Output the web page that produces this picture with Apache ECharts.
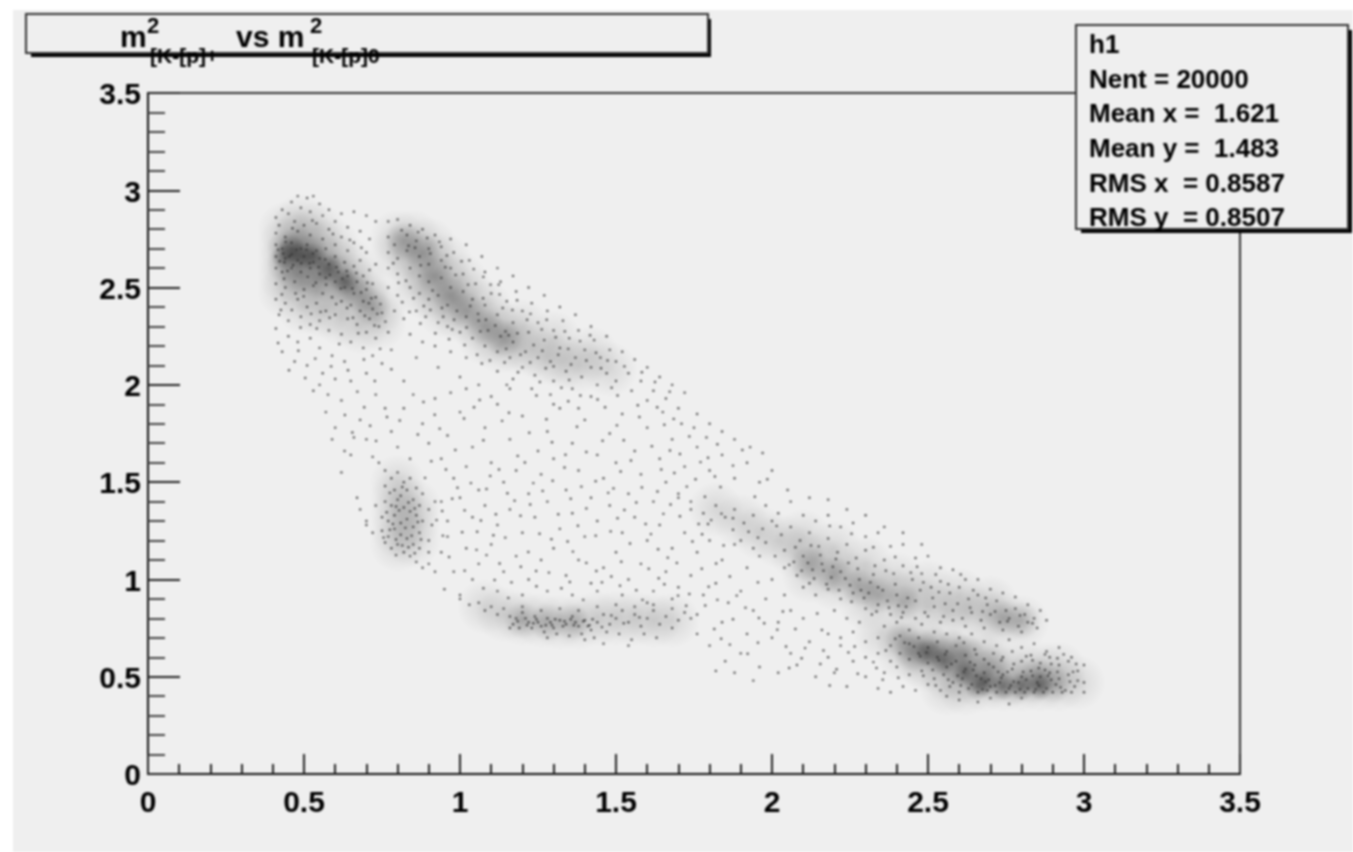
<!DOCTYPE html>
<html><head><meta charset="utf-8">
<style>html,body{margin:0;padding:0;background:#fff}#c{width:1353px;height:852px;filter:blur(0.8px)}</style>
<script src="https://cdn.jsdelivr.net/npm/echarts@6/dist/echarts.min.js"></script></head>
<body><div id="c"></div>
<script>
const xTicks = [0,0.5,1,1.5,2,2.5,3,3.5];
const statLines = ["h1","Nent = 20000","Mean x =  1.621","Mean y =  1.483","RMS x  = 0.8587","RMS y  = 0.8507"];
const densityLight = [[.44,2.8],[.49,2.84],[.54,2.8],[.44,2.72],[.49,2.76],[.54,2.72],[.59,2.72],[.44,2.64],[.49,2.68],[.54,2.64],[.59,2.64],[.64,2.62],[.44,2.56],[.49,2.6],[.54,2.56],[.59,2.56],[.64,2.54],[.69,2.52],[.49,2.52],[.54,2.48],[.59,2.48],[.64,2.46],[.69,2.44],[.74,2.4],[.74,2.32],[.44,2.48],[.5,2.4],[.56,2.38],[.62,2.34],[.68,2.3],
[.8,2.76],[.85,2.76],[.9,2.72],[.8,2.68],[.85,2.68],[.9,2.64],[.95,2.64],[.85,2.58],[.9,2.56],[.95,2.54],[1,2.54],[.88,2.48],[.93,2.46],[.98,2.44],[1.03,2.46],[1.08,2.4],[.95,2.38],[1,2.36],[1.05,2.32],[1.1,2.32],[1.15,2.28],[1.08,2.24],[1.13,2.2],[1.18,2.2],[1.23,2.18],[1.28,2.14],[1.33,2.12],[1.38,2.1],[1.2,2.3],[1.3,2.24],[1.42,2.16],[1.48,2.08],
[.8,1.5],[.8,1.42],[.8,1.34],[.8,1.26],[.8,1.18],[.85,1.38],[.85,1.3],[.85,1.2],
[1.08,.86],[1.14,.82],[1.2,.8],[1.26,.79],[1.32,.78],[1.38,.78],[1.44,.8],[1.5,.8],[1.56,.8],[1.62,.79],[1.68,.79],
[1.82,1.36],[1.9,1.3],[1.96,1.24],[2.02,1.2],[2.08,1.14],[2.14,1.1],[2.2,1.06],[2.26,1],[2.32,.96],[2.38,.92],[2.44,.9],[2.5,.86],[2.56,.84],[2.62,.84],[2.68,.82],[2.74,.8],[2.8,.78],[2.1,1.22],[2.2,1.16],[2.3,1.08],[2.4,1],[2.5,.96],[2.6,.92],[2.7,.88],[2.2,.98],[2.3,.88],[2.12,1.02],
[2.35,.72],[2.42,.7],[2.48,.66],[2.54,.62],[2.6,.6],[2.5,.56],[2.56,.52],[2.62,.5],[2.68,.46],[2.74,.46],[2.8,.46],[2.86,.46],[2.92,.46],[2.98,.47],[2.42,.62],[2.48,.58],[2.68,.56],[2.74,.54],[2.8,.54],[2.86,.54],[2.92,.54],[2.62,.58],[2.56,.44],[2.62,.44],[2.68,.62]];
const densityMid = [[.44,2.7],[.48,2.72],[.52,2.68],[.44,2.62],[.5,2.64],[.56,2.62],[.6,2.58],[.64,2.52],[.68,2.46],[.72,2.4],[.48,2.56],[.54,2.54],
[.82,2.74],[.88,2.68],[.92,2.56],[.97,2.46],[1.02,2.38],[1.08,2.3],[1.14,2.24],
[1.2,.79],[1.28,.78],[1.36,.78],
[2.12,1.08],[2.2,1.02],[2.28,.96],[2.34,.92],[2.42,.88],[2.74,.8],[2.8,.79],
[2.42,.69],[2.48,.65],[2.54,.6],[2.6,.55],[2.66,.5],[2.72,.46],[2.78,.45],[2.84,.46],[2.9,.46],[2.52,.66],[2.62,.62],[2.85,.5],[2.7,.55],[2.58,.65],[2.45,.62]];
const densityDark = [[.46,2.7],[.49,2.66],[.53,2.66],[.58,2.6],[.63,2.53],[.44,2.66],[2.55,.58],[2.62,.52],[2.68,.47],[2.74,.45],[2.8,.45],[2.66,.45],[2.5,.62],[2.86,.45]];
const dotsTopLeft = [[.41,2.86],[.43,2.9],[.46,2.94],[.48,2.97],[.51,2.96],[.53,2.97],[.55,2.93],[.58,2.9],[.62,2.88],[.66,2.89],[.7,2.87],[.73,2.84],[.45,2.88],[.49,2.91],[.52,2.89],[.56,2.87],[.6,2.84],[.64,2.81],[.68,2.79],[.71,2.75],[.42,2.82],[.47,2.84],[.5,2.82],[.54,2.83],[.58,2.8],[.62,2.76],[.66,2.73],[.7,2.68],[.73,2.62],[.41,2.78],[.44,2.76],[.48,2.79],[.52,2.77],[.56,2.75],[.6,2.72],[.64,2.69],[.68,2.64],[.71,2.59],[.41,2.72],[.43,2.7],[.46,2.73],[.49,2.7],[.51,2.72],[.54,2.69],[.57,2.7],[.6,2.66],[.63,2.63],[.66,2.61],[.69,2.56],[.72,2.52],[.41,2.66],[.44,2.65],[.46,2.67],[.48,2.64],[.5,2.66],[.53,2.63],[.55,2.65],[.58,2.62],[.61,2.58],[.64,2.56],[.67,2.53],[.7,2.49],[.73,2.45],[.41,2.6],[.43,2.58],[.46,2.6],[.49,2.58],[.52,2.6],[.55,2.57],[.57,2.55],[.6,2.53],[.63,2.5],[.66,2.47],[.69,2.43],[.72,2.39],[.75,2.37],[.41,2.52],[.44,2.5],[.47,2.53],[.5,2.49],[.53,2.51],[.56,2.47],[.59,2.45],[.62,2.43],[.65,2.41],[.68,2.38],[.71,2.34],[.74,2.3],[.77,2.27],[.41,2.44],[.44,2.42],[.48,2.44],[.51,2.4],[.54,2.42],[.57,2.38],[.6,2.36],[.64,2.34],[.67,2.31],[.7,2.27],[.73,2.24],[.42,2.36],[.45,2.33],[.49,2.35],[.52,2.31],[.55,2.33],[.58,2.28],[.62,2.26],[.65,2.22],[.69,2.19],[.72,2.15],[.41,2.29],[.45,2.25],[.48,2.22],[.52,2.24],[.55,2.19],[.59,2.15],[.63,2.12],[.47,2.12],[.51,2.1],[.56,2.06],[.6,2.03],[.65,2.02],[.7,2.06],[.75,2.11],[.43,2.17],[.78,2.18],[.53,1.97],[.57,1.86],[.62,1.92],[.68,1.82],[.73,1.95],[.59,1.72],[.65,1.64],[.6,1.78],[.55,2],
[.437,2.63],[.512,2.555],[.473,2.47],[.553,2.375],[.618,2.495],[.426,2.385],[.489,2.295],[.571,2.515],[.657,2.345],[.708,2.42],[.441,2.735],[.527,2.845],[.463,2.805],[.593,2.775],[.647,2.745],[.684,2.705],[.436,2.545],[.499,2.455],[.541,2.29],[.613,2.21],[.674,2.265],[.735,2.365],[.761,2.325],[.482,2.175],[.536,2.135],[.587,2.095],[.641,2.075],[.692,2.13],[.744,2.185],[.417,2.215],[.452,2.075],[.504,2.035],[.671,1.965],[.727,2.02],[.631,1.845],[.693,1.885],[.577,1.95],[.655,1.755],[.712,1.79],[.766,1.835],[.453,2.66],[.476,2.695],[.518,2.625],[.465,2.615],[.508,2.695],[.547,2.605],[.568,2.645],[.604,2.605],[.623,2.545],[.655,2.495],[.683,2.475],[.716,2.445],[.417,2.695],[.422,2.635],[.433,2.675],[.447,2.585],[.491,2.625],[.529,2.675],[.538,2.525],[.583,2.565],[.637,2.585],[.668,2.575],[.703,2.525],[.745,2.415],[.726,2.305],[.695,2.355],[.638,2.395],[.603,2.415],[.582,2.345],[.523,2.365],[.461,2.385],[.429,2.465]];
const dotsTopBand = [[.77,2.84],[.8,2.85],[.84,2.82],[.88,2.8],[.92,2.77],[.97,2.75],[1.02,2.72],[1.07,2.66],[1.12,2.6],[1.17,2.56],[1.22,2.5],[1.27,2.46],[1.32,2.4],[1.37,2.36],[1.42,2.3],[1.47,2.25],[.77,2.76],[.79,2.72],[.83,2.77],[.86,2.74],[.9,2.7],[.94,2.71],[.98,2.68],[1.03,2.64],[1.08,2.58],[1.13,2.53],[1.18,2.48],[1.23,2.42],[1.28,2.38],[1.33,2.33],[1.38,2.28],[1.43,2.23],[1.48,2.18],[.77,2.68],[.8,2.65],[.83,2.69],[.87,2.66],[.9,2.62],[.94,2.64],[.97,2.6],[1.01,2.57],[1.05,2.52],[1.1,2.47],[1.15,2.43],[1.2,2.38],[1.25,2.32],[1.3,2.28],[1.35,2.24],[1.4,2.18],[1.45,2.14],[1.5,2.12],[.77,2.6],[.8,2.57],[.84,2.6],[.87,2.56],[.9,2.53],[.94,2.55],[.97,2.5],[1.01,2.48],[1.04,2.44],[1.08,2.41],[1.12,2.36],[1.17,2.32],[1.22,2.27],[1.27,2.23],[1.32,2.19],[1.37,2.14],[1.42,2.09],[1.47,2.06],[.77,2.5],[.8,2.46],[.84,2.5],[.87,2.47],[.9,2.44],[.93,2.46],[.96,2.41],[.99,2.38],[1.02,2.35],[1.06,2.33],[1.09,2.28],[1.13,2.25],[1.17,2.22],[1.21,2.17],[1.25,2.14],[1.29,2.12],[1.34,2.07],[1.39,2.04],[1.44,2],[.79,2.38],[.82,2.34],[.86,2.38],[.89,2.35],[.93,2.32],[.96,2.3],[1,2.27],[1.04,2.24],[1.08,2.2],[1.12,2.17],[1.16,2.14],[1.2,2.09],[1.24,2.05],[1.3,2.02],[1.36,1.98],[.84,2.26],[.88,2.22],[.92,2.2],[.97,2.17],[1.02,2.14],[1.07,2.11],[1.12,2.07],[1.17,2.03],[1.23,1.98],[1.29,1.95],[.86,2.14],[.93,2.09],[1,2.04],[1.06,2],[1.52,2.17],[1.56,2.13],[1.6,2.09],[1.64,2.04],[1.68,2],[1.72,1.96],[1.54,2.06],[1.58,2.02],[1.62,1.97],[1.66,1.93],[1.7,1.88],[1.5,2.02],[1.55,1.97],[1.6,1.92],[1.65,1.86],[1.76,1.85],[1.8,1.8],[1.84,1.76],[1.88,1.72],[1.75,1.78],[1.79,1.73],[1.71,1.8],[1.93,1.68],[1.97,1.65],
[.813,2.795],[.856,2.705],[.905,2.675],[.874,2.615],[.827,2.535],[.953,2.605],[.986,2.565],[1.026,2.515],[1.074,2.445],[.912,2.485],[.942,2.395],[.981,2.335],[1.033,2.405],[1.065,2.275],[1.113,2.305],[1.156,2.255],[1.194,2.155],[1.236,2.205],[1.275,2.085],[1.315,2.155],[1.356,2.105],[1.405,2.125],[1.452,2.085],[1.486,1.985],[.786,2.625],[.803,2.525],[.851,2.445],[.884,2.405],[.921,2.265],[.965,2.235],[1.015,2.205],[1.055,2.155],[1.096,2.125],[1.143,2.115],[1.186,2.065],[1.256,2.015],[1.325,1.985],[1.386,1.945],[1.441,1.925],[1.505,1.945],[1.57,1.895],[1.632,1.885],[1.685,1.825],[1.127,2.465],[1.168,2.385],[1.215,2.335],[1.262,2.285],[1.307,2.245],[1.347,2.185],[1.385,2.225],[1.436,2.165],[1.473,2.125],[1.527,2.095],[1.583,2.065],[1.625,2.015],[1.672,1.965],[1.075,2.555],[1.124,2.515],[1.183,2.435],[1.226,2.365],[1.278,2.335],[1.336,2.275],[1.417,2.255],[.835,2.715],[.866,2.785],[.895,2.755],[.934,2.735],[.958,2.665],[1.005,2.635],[1.044,2.595],[1.098,2.515],[1.137,2.395],[.815,2.425],[.838,2.375],[.873,2.315],[.905,2.385],[.946,2.35],[.975,2.285],[1.021,2.295],[1.058,2.365],[1.083,2.335],[1.146,2.275],[1.184,2.265],[1.148,2.185],[1.225,2.115],[1.264,2.175],[1.3,2.095],[1.35,2.025]];
const dotsInterior = [[.62,1.55],[.7,1.72],[.74,1.6],[.78,1.76],[.82,1.88],[.88,1.8],[.92,1.93],[.96,1.74],[1,1.86],[1.04,1.68],[1.08,1.78],[1.12,1.9],[1.16,1.72],[1.2,1.84],[1.25,1.66],[1.28,1.76],[1.32,1.88],[1.36,1.7],[1.4,1.82],[1.44,1.64],[1.48,1.75],[1.52,1.85],[1.56,1.66],[1.6,1.78],[1.64,1.62],[1.68,1.72],[1.72,1.58],[1.76,1.68],[1.8,1.56],[1.84,1.64],[1.88,1.52],[1.92,1.6],[1.96,1.5],[2,1.56],[2.05,1.46],[.94,1.62],[.98,1.52],[1.02,1.58],[1.06,1.46],[1.1,1.6],[1.14,1.5],[1.18,1.56],[1.22,1.44],[1.26,1.54],[1.3,1.62],[1.34,1.46],[1.38,1.56],[1.42,1.42],[1.46,1.52],[1.5,1.6],[1.54,1.44],[1.58,1.54],[1.62,1.4],[1.66,1.5],[1.7,1.44],[1.74,1.36],[.92,1.4],[.96,1.3],[1,1.42],[1.04,1.32],[1.08,1.38],[1.12,1.28],[1.16,1.36],[1.2,1.24],[1.24,1.32],[1.28,1.4],[1.32,1.26],[1.36,1.34],[1.4,1.22],[1.44,1.3],[1.48,1.38],[1.52,1.24],[1.56,1.32],[1.6,1.2],[1.64,1.28],[1.68,1.16],[1.72,1.24],[1.76,1.14],[1.8,1.2],[1.84,1.1],[1.88,1.18],[1.92,1.06],[1.96,1.12],[2,1],[.9,1.08],[.94,1.14],[.98,1.04],[1.02,1.16],[1.06,1.08],[1.1,1.18],[1.14,1.04],[1.18,1.12],[1.22,1],[1.26,1.1],[1.3,1.16],[1.34,1.02],[1.38,1.1],[1.42,.98],[1.46,1.06],[1.5,1.14],[1.54,1],[1.58,1.08],[1.62,.94],[1.66,1.04],[1.7,.96],[1.74,1.02],[1.78,.92],[1.82,.98],[1.86,.88],[1.9,.94],[1.94,.84],[1.98,.9],[2.02,.78],[.67,1.42],[.7,1.28],[.73,1.38],[.95,.95],[1,.92],[1.04,1],[1.12,.94],[1.2,.92],[1.28,.94],[1.36,.92],[1.44,.94],[1.52,.92],[1.6,.88],[1.68,.9],[1.76,.82],[1.84,.78],[1.92,.72],[2,.7],[2.06,.62],[1.8,.66],[1.76,.72],[1.85,.58],[1.9,.62],[1.96,.55],[2.02,.52],[2.08,.56],[2.14,.5],[2.12,.68],[2.18,.6],[2.06,.84],[1.82,.53],[1.88,.52],[1.94,.48],[2.04,.92],[2.1,.8],[2.16,.74],[2.22,.66],[2.26,.58],[2.2,.52],[2.24,.45],[2.3,.5],[2.34,.44],[2.38,.42],[1.16,1.98],[1.3,1.9],[1.42,1.94],[.84,1.62],[.9,1.7],[1.02,1.98],[1.1,1.94],[.76,1.88],[.82,2.02],[.78,2.08],
[.935,1.775],[1.045,1.885],[1.135,1.815],[1.245,1.945],[1.375,1.785],[1.465,1.885],[1.575,1.835],[1.655,1.795],[1.735,1.735],[1.825,1.695],[1.905,1.665],[.865,1.745],[.985,1.665],[1.075,1.715],[1.185,1.635],[1.295,1.705],[1.405,1.655],[1.525,1.715],[1.615,1.685],[1.705,1.645],[1.795,1.625],[1.875,1.585],[1.985,1.515],[.955,1.565],[1.035,1.495],[1.125,1.565],[1.235,1.495],[1.335,1.575],[1.435,1.505],[1.515,1.555],[1.645,1.565],[1.755,1.515],[1.835,1.475],[1.945,1.425],[.975,1.415],[1.085,1.465],[1.175,1.405],[1.265,1.455],[1.355,1.415],[1.475,1.445],[1.565,1.395],[1.675,1.385],[1.785,1.425],[.925,1.305],[1.015,1.355],[1.115,1.335],[1.225,1.385],[1.315,1.335],[1.405,1.365],[1.505,1.315],[1.595,1.285],[1.705,1.325],[1.795,1.285],[1.875,1.255],[.945,1.225],[1.055,1.245],[1.145,1.215],[1.255,1.235],[1.345,1.195],[1.435,1.225],[1.545,1.185],[1.635,1.155],[1.745,1.195],[1.845,1.175],[.965,1.115],[1.085,1.125],[1.195,1.065],[1.285,1.035],[1.405,1.085],[1.485,1.015],[1.605,1.055],[1.695,1.085],[1.775,1.055],[1.865,1.015],[1.955,.985],[1.015,1.045],[1.165,.985],[1.245,.965],[1.325,.955],[1.455,.985],[1.565,.945],[1.655,.975],[1.735,.925],[1.825,.895],[1.915,.855],[2.035,.835],[1.075,.955],[1.155,.905],[1.395,.895],[1.585,.895],[1.725,.865],[1.875,.795],[1.975,.775],[2.075,.745],[2.145,.825],[1.815,.745],[1.955,.675],[2.045,.655],[1.865,.665],[2.165,.635],[2.095,.595],[2.055,.545],[2.155,.565],[2.245,.625],[2.275,.515],[2.185,.455],[2.325,.575],[2.355,.485],[1.15,2],[1.38,1.88],[.8,1.68],[.72,1.63],[.66,1.73],[.63,1.66],[.85,1.95],[.97,1.96],
[.883,1.912],[1.013,1.827],[1.157,1.857],[1.277,1.823],[1.347,1.916],[1.503,1.792],[.731,1.712],[.807,1.817],[.919,1.846],[1.063,1.922],[1.222,1.754],[1.338,1.641],[1.457,1.713],[1.548,1.611],[1.673,1.663],[1.771,1.603],[.908,1.608],[1.097,1.532],[1.208,1.601],[1.389,1.477],[1.583,1.473],[1.687,1.547],[1.817,1.529],[.888,1.522],[.992,1.471],[1.152,1.443],[1.297,1.507],[1.492,1.468],[1.633,1.452],[1.727,1.477],[.943,1.352],[1.067,1.303],[1.194,1.327],[1.378,1.276],[1.527,1.357],[1.652,1.337],[1.838,1.338],[1.007,1.243],[1.107,1.227],[1.293,1.207],[1.483,1.247],[1.612,1.233],[1.776,1.232],[1.053,1.152],[1.219,1.141],[1.362,1.143],[1.517,1.091],[1.666,1.112],[1.821,1.082],[1.127,1.082],[1.244,1.043],[1.437,1.043],[1.637,1.006],[1.797,.962],[1.887,.917],[1.111,.997],[1.352,.987],[1.513,.968],[1.699,.917],[1.786,.866],[1.958,.802],[2.017,.742],[1.837,.695],[1.922,.618],[2.106,.647],[2.207,.538]];
const dotsLeftBlob = [[.76,1.56],[.78,1.52],[.8,1.55],[.82,1.5],[.84,1.52],[.86,1.47],[.88,1.44],[.76,1.48],[.79,1.46],[.81,1.43],[.83,1.46],[.85,1.41],[.87,1.38],[.9,1.36],[.76,1.4],[.78,1.38],[.8,1.41],[.82,1.37],[.84,1.35],[.86,1.33],[.88,1.3],[.91,1.28],[.75,1.32],[.77,1.3],[.79,1.33],[.81,1.29],[.83,1.31],[.85,1.27],[.87,1.24],[.9,1.2],[.75,1.25],[.77,1.22],[.79,1.26],[.81,1.23],[.83,1.21],[.85,1.18],[.87,1.16],[.9,1.14],[.76,1.19],[.78,1.16],[.8,1.18],[.82,1.14],[.84,1.12],[.86,1.09],[.88,1.06],[.92,1.04],[.7,1.3],[.68,1.36],[.72,1.24],[.94,1.4],[.96,1.22],[.775,1.445],[.815,1.475],[.795,1.375],[.835,1.395],[.765,1.345],[.805,1.355],[.855,1.365],[.785,1.285],[.825,1.265],[.865,1.295],[.755,1.215],[.795,1.205],[.845,1.225],[.815,1.175],[.775,1.255],[.835,1.165],[.875,1.205],[.795,1.125],[.855,1.135]];
const dotsLowerBand = [[1,.9],[1.03,.87],[1.06,.88],[1.08,.84],[1.1,.86],[1.12,.82],[1.14,.85],[1.16,.81],[1.18,.8],[1.2,.83],[1.22,.78],[1.24,.81],[1.26,.76],[1.28,.8],[1.3,.75],[1.32,.79],[1.34,.77],[1.36,.81],[1.38,.76],[1.4,.79],[1.42,.74],[1.44,.78],[1.46,.82],[1.48,.77],[1.5,.8],[1.52,.84],[1.54,.78],[1.56,.82],[1.58,.76],[1.6,.8],[1.62,.84],[1.64,.77],[1.66,.81],[1.68,.75],[1.7,.79],[1.72,.83],[1.74,.8],[1.17,.77],[1.19,.75],[1.21,.8],[1.23,.75],[1.25,.78],[1.27,.73],[1.29,.78],[1.31,.72],[1.33,.76],[1.35,.71],[1.37,.78],[1.39,.72],[1.41,.76],[1.43,.7],[1.47,.73],[1.51,.72],[1.55,.69],[1.59,.72],[1.63,.7],[1.2,.86],[1.26,.84],[1.32,.85],[1.38,.84],[1.44,.86],[1.5,.87],[1.56,.86],[1.62,.87],[1.68,.85],[1.28,.7],[1.4,.69],[1.46,.67],[1.54,.66],[1.16,.75],[1.185,.785],[1.215,.765],[1.245,.795],[1.275,.765],[1.305,.795],[1.335,.785],[1.365,.765],[1.395,.785],[1.425,.795],[1.455,.755],[1.235,.775],[1.295,.765],[1.355,.795],[1.415,.765],[1.485,.815],[1.525,.775],[1.575,.805]];
const dotsUpperRight = [[1.7,1.42],[1.74,1.4],[1.78,1.34],[1.82,1.38],[1.85,1.32],[1.88,1.36],[1.91,1.29],[1.94,1.33],[1.97,1.26],[2,1.3],[2.03,1.23],[2.06,1.27],[2.09,1.2],[2.12,1.24],[2.15,1.17],[2.18,1.21],[2.21,1.14],[2.24,1.18],[2.27,1.11],[2.3,1.15],[2.33,1.07],[2.36,1.1],[2.39,1.03],[2.42,1.07],[2.45,1],[2.48,1.03],[2.51,.96],[2.54,.99],[2.57,.93],[2.6,.96],[2.63,.9],[2.66,.92],[2.69,.87],[2.72,.89],[2.75,.84],[2.78,.85],[2.81,.82],[2.84,.8],[1.9,1.2],[1.94,1.16],[1.98,1.19],[2.01,1.12],[2.04,1.15],[2.07,1.09],[2.1,1.12],[2.13,1.05],[2.16,1.08],[2.19,1.01],[2.22,1.04],[2.25,.97],[2.28,1],[2.31,.93],[2.34,.96],[2.37,.89],[2.4,.92],[2.43,.86],[2.46,.89],[2.49,.83],[2.52,.86],[2.55,.81],[2.58,.84],[2.61,.8],[2.64,.83],[2.67,.79],[2.7,.82],[2.73,.78],[2.76,.8],[2.79,.76],[2.82,.78],[2.85,.75],[2.1,1.33],[2.14,1.3],[2.18,1.33],[2.22,1.27],[2.26,1.29],[2.3,1.22],[2.34,1.24],[2.38,1.17],[2.42,1.18],[2.46,1.11],[2.5,1.12],[2.54,1.06],[2.58,1.05],[2.62,1],[2.66,1],[2.7,.95],[2.74,.93],[2.78,.91],[2.82,.87],[2.86,.84],[2.88,.79],[2.12,1.42],[2.18,1.41],[2.24,1.36],[2.3,1.33],[2.36,1.27],[2.42,1.24],[2.48,1.18],[2.1,.96],[2.14,.92],[2.18,.95],[2.22,.9],[2.26,.93],[2.3,.85],[2.34,.87],[2.38,.82],[2.42,.83],[2.46,.8],[2.5,.81],[2.54,.78],[2.58,.79],[2.62,.76],[2.68,.75],[2.74,.74],[2.8,.73],[1.98,1.38],[2.02,1.34],[2.06,1.4],[2.04,1.06],[2.08,1.02],[2.12,.98],
[2.075,1.165],[2.115,1.085],[2.155,1.125],[2.195,1.065],[2.235,1.005],[2.275,1.055],[2.315,.985],[2.355,.945],[2.395,.975],[2.435,.905],[2.475,.945],[2.515,.905],[2.555,.875],[2.595,.875],[2.635,.855],[2.675,.835],[2.715,.835],[2.755,.785],[2.795,.815],[2.835,.775],[2.125,1.175],[2.165,1.045],[2.205,1.105],[2.245,1.085],[2.285,.945],[2.325,1.025],[2.365,1.045],[2.405,.865],[2.445,1.035],[2.485,.985],[2.525,1.025],[2.565,.975],[2.605,1.025],[2.645,.945],[2.685,.905],[2.185,1.275],[2.255,1.235],[2.325,1.165],[2.395,1.115],[2.465,1.065],[2.535,.935],[1.955,1.215],[2.015,1.275],[2.055,1.075],[1.875,1.315],[1.925,1.245],[1.805,1.305],[1.765,1.285],[2.095,1.045],[2.135,1.005],[2.175,.975],[2.215,.945],[2.255,.885],[2.295,.905],[2.335,.835],[2.375,.855],[2.415,.805]];
const dotsLowerRight = [[2.2,.84],[2.24,.8],[2.28,.78],[2.32,.82],[2.36,.76],[2.4,.78],[2.44,.74],[2.48,.77],[2.52,.73],[2.56,.72],[2.6,.7],[2.64,.72],[2.68,.68],[2.72,.66],[2.76,.69],[2.8,.65],[2.84,.67],[2.88,.63],[2.92,.65],[2.96,.6],[3,.56],[2.18,.72],[2.22,.7],[2.26,.73],[2.3,.68],[2.34,.7],[2.38,.66],[2.41,.71],[2.44,.67],[2.47,.7],[2.5,.65],[2.53,.68],[2.56,.63],[2.59,.66],[2.62,.61],[2.65,.64],[2.68,.59],[2.71,.62],[2.74,.6],[2.77,.63],[2.8,.58],[2.83,.61],[2.86,.57],[2.89,.6],[2.92,.56],[2.95,.58],[2.98,.53],[2.3,.6],[2.34,.62],[2.38,.58],[2.41,.62],[2.44,.59],[2.47,.62],[2.5,.57],[2.53,.6],[2.56,.55],[2.59,.58],[2.62,.54],[2.65,.56],[2.68,.52],[2.71,.55],[2.74,.51],[2.77,.54],[2.8,.5],[2.83,.53],[2.86,.5],[2.89,.52],[2.92,.49],[2.95,.51],[2.98,.48],[3,.47],[2.36,.52],[2.4,.55],[2.44,.51],[2.48,.53],[2.52,.49],[2.55,.51],[2.58,.47],[2.61,.49],[2.64,.46],[2.67,.49],[2.7,.45],[2.73,.47],[2.76,.44],[2.79,.47],[2.82,.44],[2.85,.47],[2.88,.44],[2.91,.46],[2.94,.43],[2.97,.45],[3,.42],[2.42,.45],[2.46,.43],[2.5,.46],[2.54,.43],[2.57,.45],[2.6,.42],[2.63,.44],[2.66,.42],[2.69,.43],[2.72,.42],[2.75,.42],[2.78,.42],[2.81,.42],[2.84,.42],[2.87,.42],[2.9,.42],[2.93,.42],[2.96,.42],[2.6,.38],[2.66,.37],[2.7,.39],[2.76,.36],[2.8,.39],[2.56,.4],
[2.455,.655],[2.495,.625],[2.535,.585],[2.575,.565],[2.615,.525],[2.655,.505],[2.695,.485],[2.735,.495],[2.775,.475],[2.815,.485],[2.855,.455],[2.895,.485],[2.425,.675],[2.475,.605],[2.515,.535],[2.555,.615],[2.595,.505],[2.635,.575],[2.675,.435],[2.715,.455],[2.755,.525],[2.795,.435],[2.835,.505],[2.875,.535],[2.915,.525],[2.955,.475],[2.395,.695],[2.365,.635],[2.335,.545],[2.265,.655],[2.405,.495],[2.485,.505],[2.525,.455],[2.565,.485],[2.605,.455],[2.645,.535],[2.685,.475],[2.725,.525],[2.765,.455],[2.805,.525],[2.845,.435],[2.885,.505],[2.925,.445],[2.965,.525],[2.615,.675],[2.655,.615],[2.695,.565],[2.735,.585],[2.775,.565],[2.815,.605],[2.855,.545],[2.895,.565],[2.935,.615],[2.975,.565],[2.915,.595],[2.875,.615],[2.835,.585]];
const softFill = (a)=>({type:'radial',x:.5,y:.5,r:.5,colorStops:[{offset:0,color:`rgba(25,25,25,${a})`},{offset:1,color:'rgba(25,25,25,0)'}]});
const labelStyle = {color:'#000',fontFamily:'Liberation Sans',fontWeight:'bold',fontSize:30,formatter:v=>String(v)};
const option = {
  animation:false,
  backgroundColor:'#ffffff',
  grid:{left:148,top:93,width:1092,height:681,show:true,borderColor:'#333',borderWidth:2,backgroundColor:'transparent',containLabel:false},
  xAxis:{type:'value',min:xTicks[0],max:xTicks[xTicks.length-1],interval:.5,splitLine:{show:false},
    axisLine:{onZero:false,lineStyle:{color:'#111',width:2}},
    axisTick:{inside:true,length:20,lineStyle:{color:'#222',width:2}},
    minorTick:{show:true,splitNumber:5,length:10,lineStyle:{color:'#222',width:2}},
    axisLabel:{margin:15,...labelStyle}},
  yAxis:{type:'value',min:0,max:3.5,interval:.5,splitLine:{show:false},
    axisLine:{onZero:false,lineStyle:{color:'#111',width:2}},
    axisTick:{inside:true,length:32,lineStyle:{color:'#222',width:2}},
    minorTick:{show:true,splitNumber:5,length:17,lineStyle:{color:'#444',width:2}},
    axisLabel:{margin:7,verticalAlign:'top',lineHeight:6,...labelStyle}},
  series:[
    {type:'scatter',data:densityLight,symbolSize:56,silent:true,itemStyle:{color:softFill(.14)}},
    {type:'scatter',data:densityMid,symbolSize:38,silent:true,itemStyle:{color:softFill(.26)}},
    {type:'scatter',data:densityDark,symbolSize:28,silent:true,itemStyle:{color:softFill(.45)}},
    ...[dotsTopLeft,dotsTopBand,dotsInterior,dotsLeftBlob,dotsLowerBand,dotsUpperRight,dotsLowerRight].map(d=>({type:'scatter',data:d,symbolSize:2.4,silent:true,itemStyle:{color:'#333',opacity:.85}}))
  ],
  graphic:{elements:[
    {type:'rect',z:-10,silent:true,shape:{x:13,y:10,width:1340,height:842},style:{fill:'#efefef'}},
    {type:'rect',z:5,silent:true,shape:{x:31,y:19,width:680,height:38},style:{fill:'#000'}},
    {type:'rect',z:6,silent:true,shape:{x:26,y:14,width:682,height:39},style:{fill:'#efefef',stroke:'#333',lineWidth:2}},
    ...[['m',120,39,30],['2',147,27,22],['[K-[p]+',150,57,21],['vs m',236,39,30],['2',310,27,22],['[K-[p]0',312,57,21]].map(([t,x,y,s])=>({type:'text',z:7,silent:true,style:{x,y,text:t,fill:'#000',fontFamily:'Liberation Sans',fontWeight:'bold',fontSize:s,verticalAlign:'middle'}})),
    {type:'rect',z:5,silent:true,shape:{x:1081,y:30,width:271,height:203},style:{fill:'#000'}},
    {type:'rect',z:6,silent:true,shape:{x:1076,y:25,width:272,height:204},style:{fill:'#efefef',stroke:'#333',lineWidth:2}},
    ...statLines.map((t,i)=>({type:'text',z:7,silent:true,style:{x:1089,y:46+i*34.6,text:t,fill:'#000',fontFamily:'Liberation Sans',fontWeight:'bold',fontSize:26,verticalAlign:'middle'}}))
  ]}
};
const chart = echarts.init(document.getElementById('c'),null,{renderer:'canvas'});
chart.setOption(option);
</script></body></html>
